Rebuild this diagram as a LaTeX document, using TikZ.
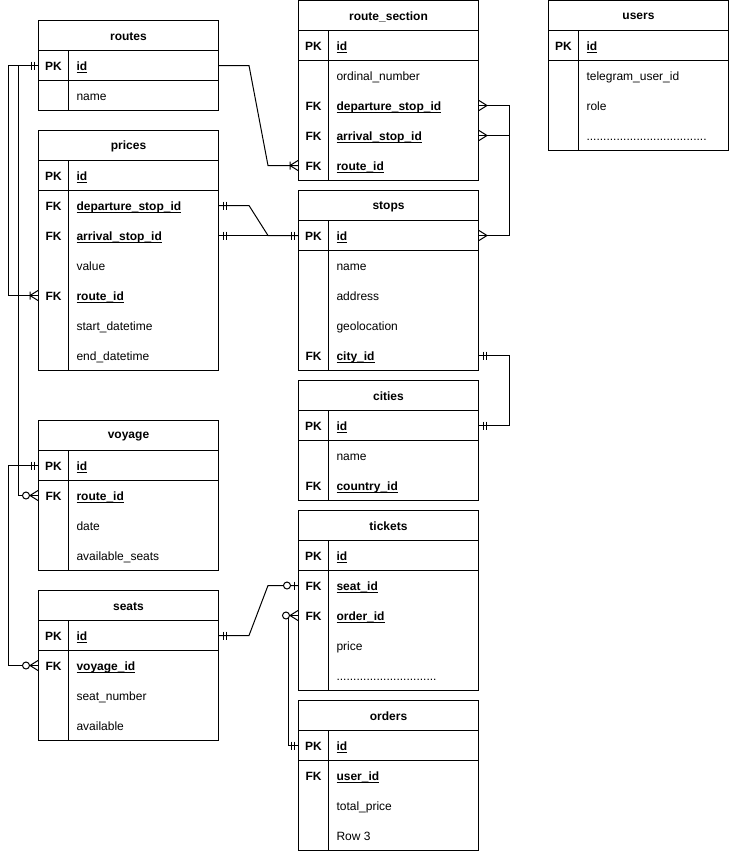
\documentclass[tikz,border=0pt]{standalone}
\usepackage{fontspec}
\setmainfont{Liberation Sans}
\usetikzlibrary{calc}

\newcommand\erfont{\fontsize{9pt}{11pt}\selectfont}
\newcommand\ulb[1]{\textbf{\underline{\smash{#1}}}}
\newcommand\udots{....................................}
\newcommand\tdots{..............................}
% table frame: name, x, y, rows, title
\newcommand\erbox[5]{%
  \draw (#2,#3) rectangle (#2+180,#3+30+30*#4);
  \draw (#2,#3+30) -- (#2+180,#3+30) (#2,#3+60) -- (#2+180,#3+60);
  \draw (#2+30,#3+30) -- (#2+30,#3+30+30*#4);
  \node[hdr] (#1) at (#2+90,#3+16) {#5};}
% table row: name, x, y, key, text
\newcommand\errow[5]{%
  \node[erow] (#1) at (#2+90,#3) {};
  \node[keyt] at (#2+15,#3+1) {#4};
  \node[fld] at (#2+37.5,#3+1) {#5};}

\tikzset{
  hdr/.style={font=\erfont\bfseries},
  erow/.style={minimum width=135pt,minimum height=22.5pt,inner sep=0pt},
  keyt/.style={font=\erfont\bfseries,inner sep=0pt},
  fld/.style={font=\erfont,anchor=west,inner sep=0pt,text height=1.5ex,text depth=.3ex},
  mone/.pic={\draw (4,-4) -- (4,4) (7,-4) -- (7,4);},
  onemany/.pic={\draw (0,-5) -- (8,0) -- (0,5) (8,-4) -- (8,4);},
  many/.pic={\draw (0,-5) -- (8,0) -- (0,5);},
  zeromany/.pic={\draw (0,-5) -- (8,0) -- (0,5); \draw[fill=white] (12,0) circle (3.5);},
  zeroone/.pic={\draw (4,-4) -- (4,4); \draw[fill=white] (11,0) circle (3.5);}
}

\begin{document}
\begin{tikzpicture}[x=0.75pt,y=-0.75pt,line width=0.75pt]
\useasboundingbox (-0.5,-0.5) rectangle (728.5,850.5);

%left column
\erbox{routes}{38}{20}{2}{routes}
\foreach \n/\k/\t [count=\i] in {id/PK/\ulb{id}, name//name}
  {\errow{routes-\n}{38}{35+30*\i}{\k}{\t}}
\erbox{prices}{38}{130}{7}{prices}
\foreach \n/\k/\t [count=\i] in {id/PK/\ulb{id}, dep/FK/\ulb{departure\_stop\_id},
  arr/FK/\ulb{arrival\_stop\_id}, value//value, route/FK/\ulb{route\_id},
  start//start\_datetime, end//end\_datetime}
  {\errow{prices-\n}{38}{145+30*\i}{\k}{\t}}
\erbox{voyage}{38}{420}{4}{voyage}
\foreach \n/\k/\t [count=\i] in {id/PK/\ulb{id}, route/FK/\ulb{route\_id},
  date//date, seats//available\_seats}
  {\errow{voyage-\n}{38}{435+30*\i}{\k}{\t}}
\erbox{seats}{38}{590}{4}{seats}
\foreach \n/\k/\t [count=\i] in {id/PK/\ulb{id}, voyage/FK/\ulb{voyage\_id},
  number//seat\_number, avail//available}
  {\errow{seats-\n}{38}{605+30*\i}{\k}{\t}}

%middle column
\erbox{rs}{298}{0}{5}{route\_section}
\foreach \n/\k/\t [count=\i] in {id/PK/\ulb{id}, ord//ordinal\_number,
  dep/FK/\ulb{departure\_stop\_id}, arr/FK/\ulb{arrival\_stop\_id}, route/FK/\ulb{route\_id}}
  {\errow{rs-\n}{298}{15+30*\i}{\k}{\t}}
\erbox{stops}{298}{190}{5}{stops}
\foreach \n/\k/\t [count=\i] in {id/PK/\ulb{id}, name//name, addr//address,
  geo//geolocation, city/FK/\ulb{city\_id}}
  {\errow{stops-\n}{298}{205+30*\i}{\k}{\t}}
\erbox{cities}{298}{380}{3}{cities}
\foreach \n/\k/\t [count=\i] in {id/PK/\ulb{id}, name//name, country/FK/\ulb{country\_id}}
  {\errow{cities-\n}{298}{395+30*\i}{\k}{\t}}
\erbox{tickets}{298}{510}{5}{tickets}
\foreach \n/\k/\t [count=\i] in {id/PK/\ulb{id}, seat/FK/\ulb{seat\_id},
  order/FK/\ulb{order\_id}, price//price, more//\tdots}
  {\errow{tickets-\n}{298}{525+30*\i}{\k}{\t}}
\erbox{orders}{298}{700}{4}{orders}
\foreach \n/\k/\t [count=\i] in {id/PK/\ulb{id}, user/FK/\ulb{user\_id},
  total//total\_price, row//Row 3}
  {\errow{orders-\n}{298}{715+30*\i}{\k}{\t}}

%right column
\erbox{users}{548}{0}{4}{users}
\foreach \n/\k/\t [count=\i] in {id/PK/\ulb{id}, tg//telegram\_user\_id,
  role//role, more//\udots}
  {\errow{users-\n}{548}{15+30*\i}{\k}{\t}}

%relations
\draw (routes-id.west) -- ++(-30,0) |- (prices-route.west);
\draw (routes-id.west) -- ++(-20,0) |- (voyage-route.west);
\draw (routes-id.east) -- ++(30,0) -- ($(rs-route.west)+(-30,0)$) -- (rs-route.west);
\draw (prices-dep.east) -- ++(30,0) -- ($(stops-id.west)+(-30,0)$) -- (stops-id.west);
\draw (prices-arr.east) -- (stops-id.west);
\draw (rs-dep.east) -- ++(30,0) |- (stops-id.east);
\draw (rs-arr.east) -- ++(30,0);
\draw (stops-city.east) -- ++(30,0) |- (cities-id.east);
\draw (voyage-id.west) -- ++(-30,0) |- (seats-voyage.west);
\draw (seats-id.east) -- ++(30,0) -- ($(tickets-seat.west)+(-30,0)$) -- (tickets-seat.west);
\draw (tickets-order.west) -- ++(-10,0) |- (orders-id.west);

%line ends
\foreach \p in {routes-id,stops-id,voyage-id,orders-id}
  \pic[xscale=-1] at (\p.west) {mone};
\foreach \p in {prices-dep,prices-arr,stops-city,cities-id,seats-id}
  \pic at (\p.east) {mone};
\foreach \p in {prices-route,rs-route}
  \pic[xscale=-1] at (\p.west) {onemany};
\foreach \p in {rs-dep,rs-arr,stops-id}
  \pic at (\p.east) {many};
\foreach \p in {voyage-route,seats-voyage,tickets-order}
  \pic[xscale=-1] at (\p.west) {zeromany};
\pic[xscale=-1] at (tickets-seat.west) {zeroone};
\end{tikzpicture}
\end{document}
